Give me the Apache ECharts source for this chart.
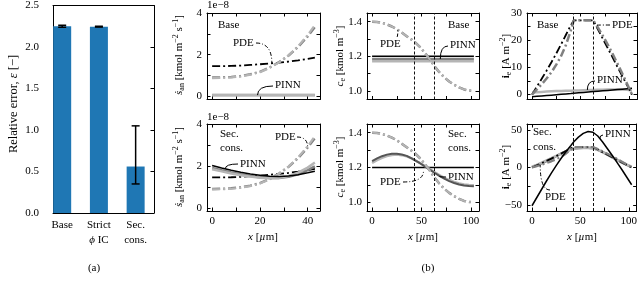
<!DOCTYPE html>
<html><head><meta charset="utf-8">
<script src="https://cdn.jsdelivr.net/npm/echarts@6/dist/echarts.min.js"></script>
<style>html,body{margin:0;padding:0;background:#fff}#c{width:640px;height:292px}</style>
</head><body><div id="c"></div>
<script>
const FONT = '"Liberation Serif","DejaVu Serif","Times New Roman",serif';

// ---------- (a) bar chart data ----------
const barCategories = ['Base', 'Strict\nϕ IC', 'Sec.\ncons.'];
const barValues = [2.25, 2.245, 0.56];
const barErrLow = [2.238, 2.240, 0.35];
const barErrHigh = [2.262, 2.250, 1.05];
const barYTicks = [0, 0.5, 1.0, 1.5, 2.0, 2.5];

// ---------- (b) data ----------
const separatorBounds = [43, 63];
const xAnode = [0, 4, 8, 12, 16, 20, 24, 28, 32, 36, 40, 43];
const sPdeBlack = [1.45, 1.45, 1.46, 1.48, 1.51, 1.54, 1.58, 1.62, 1.67, 1.73, 1.80, 1.86];
const sPdeGray  = [0.90, 0.91, 0.93, 0.98, 1.06, 1.18, 1.38, 1.64, 1.96, 2.38, 2.88, 3.33];
const sPdeLight = [0.88, 0.89, 0.91, 0.96, 1.04, 1.16, 1.36, 1.63, 1.97, 2.41, 2.94, 3.42];
const sPinnBaseGray  = [0.06, 0.06, 0.06, 0.06, 0.06, 0.06, 0.06, 0.06, 0.06, 0.06, 0.06, 0.06];
const sPinnBaseLight = [0.05, 0.05, 0.05, 0.05, 0.05, 0.05, 0.05, 0.05, 0.05, 0.05, 0.05, 0.05];
const sPinnSecBlack = [2.02, 1.90, 1.79, 1.70, 1.62, 1.56, 1.51, 1.49, 1.52, 1.58, 1.67, 1.75];
const sPinnSecGray  = [1.90, 1.79, 1.69, 1.60, 1.52, 1.46, 1.42, 1.42, 1.48, 1.60, 1.80, 1.98];
const sPinnSecLight = [1.84, 1.74, 1.64, 1.56, 1.49, 1.44, 1.41, 1.43, 1.52, 1.68, 1.92, 2.16];

const xCell = [0, 5, 10, 15, 20, 25, 30, 35, 40, 43, 48, 53, 58, 63, 68, 73, 78, 83, 88, 93, 98, 103];
const cePde = [1.400, 1.398, 1.393, 1.384, 1.372, 1.356, 1.337, 1.316, 1.296, 1.284, 1.256, 1.222, 1.185, 1.143, 1.108, 1.078, 1.054, 1.035, 1.020, 1.008, 1.002, 1.000];
const cePinnBaseBlack = [1.2, 1.2, 1.2, 1.2, 1.2, 1.2, 1.2, 1.2, 1.2, 1.2, 1.2, 1.2, 1.2, 1.2, 1.2, 1.2, 1.2, 1.2, 1.2, 1.2, 1.2, 1.2];
const cePinnBaseGray = [1.184, 1.184, 1.184, 1.184, 1.184, 1.184, 1.184, 1.184, 1.184, 1.184, 1.184, 1.184, 1.184, 1.184, 1.184, 1.184, 1.184, 1.184, 1.184, 1.184, 1.184, 1.184];
const cePinnBaseLight = [1.171, 1.171, 1.171, 1.171, 1.171, 1.171, 1.171, 1.171, 1.171, 1.171, 1.171, 1.171, 1.171, 1.171, 1.171, 1.171, 1.171, 1.171, 1.171, 1.171, 1.171, 1.171];
const cePinnSecBlack = [1.2, 1.2, 1.2, 1.2, 1.2, 1.2, 1.2, 1.2, 1.2, 1.2, 1.2, 1.2, 1.2, 1.2, 1.2, 1.2, 1.2, 1.2, 1.2, 1.2, 1.2, 1.2];
const cePinnSecGray = [1.237, 1.252, 1.265, 1.274, 1.279, 1.279, 1.275, 1.267, 1.253, 1.243, 1.226, 1.208, 1.189, 1.170, 1.152, 1.136, 1.122, 1.111, 1.102, 1.096, 1.093, 1.092];
const cePinnSecLight = [1.226, 1.242, 1.256, 1.266, 1.272, 1.274, 1.271, 1.264, 1.252, 1.243, 1.227, 1.210, 1.192, 1.174, 1.157, 1.141, 1.128, 1.117, 1.108, 1.102, 1.099, 1.098];

const iePdeBlack = [0, 2.9, 5.8, 8.8, 11.9, 15.1, 18.5, 22.0, 25.5, 27.3, 27.3, 27.3, 27.3, 27.3, 23.9, 20.5, 17.1, 13.7, 10.2, 6.8, 3.4, 0];
const iePdeGray  = [0, 1.9, 3.8, 5.9, 8.2, 11.0, 14.2, 18.3, 23.6, 27.3, 27.3, 27.3, 27.3, 27.3, 24.6, 21.6, 18.4, 15.0, 11.4, 7.7, 3.9, 0];
const iePinnBaseBlack = [-0.8, -0.65, -0.5, -0.35, -0.2, -0.05, 0.1, 0.25, 0.4, 0.5, 0.65, 0.8, 0.95, 1.1, 1.25, 1.4, 1.55, 1.7, 1.85, 2.0, 2.15, 2.3];
const iePinnBaseGray  = [0.8, 0.9, 1.0, 1.1, 1.2, 1.3, 1.35, 1.4, 1.45, 1.5, 1.55, 1.6, 1.65, 1.7, 1.75, 1.8, 1.85, 1.9, 1.9, 1.9, 1.8, 1.5];
const iePinnSecBlack = [-51, -40, -29, -18, -7.5, 2.5, 12, 21, 29, 34, 40.5, 45.5, 48, 47, 42, 34, 25, 16, 6.5, -3, -13, -23];
const iePinnSecGray  = [0.5, 3, 5.5, 8.5, 11.5, 15, 18.5, 21.5, 24, 25, 26, 26.3, 26.3, 25.8, 23.5, 20.5, 17, 13.5, 10, 6.5, 3.5, 0.5];
const iePinnSecLight = [1, 3.5, 6.5, 9.5, 12.5, 15.5, 18.5, 21.5, 23.8, 25, 25.8, 26, 26, 25.5, 23.5, 20.8, 17.5, 14, 10.5, 7, 3.8, 1];

// tick definitions
const xAnodeTicks = [0, 10, 20, 30, 40], xAnodeLabels = [0, 20, 40];
const xCellTicks = [0, 25, 50, 75, 100], xCellLabels = [0, 50, 100];
const sTicks = [0, 1, 2, 3, 4], sLabels = [0, 2, 4];
const ceTicks = [1.0, 1.1, 1.2, 1.3, 1.4], ceLabels = [1.0, 1.2, 1.4];
const ieBaseTicks = [0, 5, 10, 15, 20, 25, 30], ieBaseLabels = [0, 10, 20, 30];
const ieSecTicks = [-50, -25, 0, 25, 50], ieSecLabels = [-50, 0, 50];

// ---------- layout ----------
const grids = [
  {left: 53, top: 4, width: 101, height: 209},
  {left: 207, top: 13, width: 113, height: 86.5},
  {left: 367, top: 13, width: 112, height: 86.5},
  {left: 527, top: 13, width: 110, height: 86.5},
  {left: 207, top: 124, width: 113, height: 87},
  {left: 367, top: 124, width: 112, height: 87},
  {left: 527, top: 124, width: 110, height: 87}
];
const minus = v => String(v).replace('-', '−');
const lblStyle = {color: '#000', fontFamily: FONT, fontSize: 11};

const xAxes = [], yAxes = [];
function addAxes(gi, xr, yr, xt, xl, yt, yl, showX, fmtX, fmtY) {
  const base = {type: 'value', gridIndex: gi, splitLine: {show: false},
    axisLine: {show: true, onZero: false, lineStyle: {color: '#000', width: 1}}};
  const tick = vals => ({show: true, inside: true, length: 3.5, customValues: vals, lineStyle: {color: '#000', width: 1}});
  xAxes.push(Object.assign({}, base, {position: 'bottom', min: xr[0], max: xr[1], axisTick: tick(xt),
    axisLabel: Object.assign({show: showX, customValues: xl, formatter: fmtX || minus, margin: 5}, lblStyle)}));
  xAxes.push(Object.assign({}, base, {position: 'top', min: xr[0], max: xr[1],
    axisTick: gi === 0 ? {show: false} : tick(xt), axisLabel: {show: false}}));
  yAxes.push(Object.assign({}, base, {position: 'left', min: yr[0], max: yr[1], axisTick: tick(yt),
    axisLabel: Object.assign({show: true, customValues: yl, formatter: fmtY || minus, margin: gi === 0 ? 14 : 5}, lblStyle)}));
  yAxes.push(Object.assign({}, base, {position: 'right', min: yr[0], max: yr[1], axisTick: tick(yt), axisLabel: {show: false}}));
}
addAxes(0, [-0.25, 2.5], [0, 2.5], [0, 1, 2], [0, 1, 2], barYTicks, barYTicks, true,
  v => barCategories[Math.round(v)].replace('ϕ', '{i|ϕ}'), v => v.toFixed(1));
xAxes[0].axisLabel.lineHeight = 15;
xAxes[0].axisLabel.rich = {i: {fontStyle: 'italic', fontFamily: FONT, fontSize: 11, color: '#000', lineHeight: 15}};
const xrA = [-2.15, 45.15], xrC = [-5.15, 108.15];
addAxes(1, xrA, [-0.15, 4], xAnodeTicks, xAnodeLabels, sTicks, sLabels, false);
addAxes(2, xrC, [0.95, 1.45], xCellTicks, xCellLabels, ceTicks, ceLabels, false, null, v => v.toFixed(1));
addAxes(3, xrC, [-1.8, 30], xCellTicks, xCellLabels, ieBaseTicks, ieBaseLabels, false);
addAxes(4, xrA, [-0.15, 4], xAnodeTicks, xAnodeLabels, sTicks, sLabels, true);
addAxes(5, xrC, [0.95, 1.45], xCellTicks, xCellLabels, ceTicks, ceLabels, true, null, v => v.toFixed(1));
addAxes(6, xrC, [-58, 58], xCellTicks, xCellLabels, ieSecTicks, ieSecLabels, true);

// ---------- series ----------
const DASHDOT = [8, 3, 2, 3];
const series = [];
function line(gi, xs, ys, color, width, dashed, z) {
  series.push({type: 'line', xAxisIndex: 2 * gi, yAxisIndex: 2 * gi, data: xs.map((x, i) => [x, ys[i]]),
    symbol: 'none', showSymbol: false, silent: true, z: z || 2,
    lineStyle: {color: color, width: width, type: dashed ? DASHDOT : 'solid', cap: 'butt'}});
}
const BLK = '#000', GRY = '#808080', LGT = '#b5b5b5';

series.push({type: 'bar', xAxisIndex: 0, yAxisIndex: 0, data: barValues.map((v, i) => [i, v]),
  barWidth: 18, itemStyle: {color: '#1f77b4'}, silent: true});
series.push({type: 'custom', xAxisIndex: 0, yAxisIndex: 0, silent: true, z: 5,
  data: barValues.map((v, i) => [i, barErrLow[i], barErrHigh[i]]),
  renderItem: (params, api) => {
    const lo = api.coord([api.value(0), api.value(1)]), hi = api.coord([api.value(0), api.value(2)]);
    const st = {stroke: '#000', lineWidth: 1.5};
    return {type: 'group', children: [
      {type: 'line', shape: {x1: lo[0], y1: lo[1], x2: hi[0], y2: hi[1]}, style: st},
      {type: 'line', shape: {x1: lo[0] - 4, y1: lo[1], x2: lo[0] + 4, y2: lo[1]}, style: st},
      {type: 'line', shape: {x1: hi[0] - 4, y1: hi[1], x2: hi[0] + 4, y2: hi[1]}, style: st}
    ]};
  }});

// s_an base
line(1, xAnode, sPinnBaseGray, GRY, 2.5, false);
line(1, xAnode, sPinnBaseLight, LGT, 2.5, false);
line(1, xAnode, sPdeBlack, BLK, 1.8, true);
line(1, xAnode, sPdeGray, GRY, 2.5, true);
line(1, xAnode, sPdeLight, LGT, 2.2, true);
// s_an sec
line(4, xAnode, sPdeBlack, BLK, 1.8, true);
line(4, xAnode, sPdeGray, GRY, 2.5, true);
line(4, xAnode, sPdeLight, LGT, 2.2, true);
line(4, xAnode, sPinnSecGray, GRY, 2.5, false);
line(4, xAnode, sPinnSecLight, LGT, 2.5, false);
line(4, xAnode, sPinnSecBlack, BLK, 1.5, false);
// c_e base
line(2, xCell, cePinnBaseGray, GRY, 2.5, false);
line(2, xCell, cePinnBaseLight, LGT, 2.5, false);
line(2, xCell, cePinnBaseBlack, BLK, 1.5, false);
line(2, xCell, cePde, GRY, 2.5, true);
line(2, xCell, cePde, LGT, 1.8, true);
// c_e sec
line(5, xCell, cePinnSecBlack, BLK, 1.5, false);
line(5, xCell, cePinnSecLight, LGT, 2.5, false);
line(5, xCell, cePinnSecGray, '#555', 2, false);
line(5, xCell, cePde, GRY, 2.5, true);
line(5, xCell, cePde, LGT, 1.8, true);
// i_e base
line(3, xCell, iePinnBaseGray, LGT, 2.5, false);
line(3, xCell, iePinnBaseBlack, BLK, 1.5, false);
line(3, xCell, iePdeBlack, BLK, 1.8, true);
line(3, xCell, iePdeGray, GRY, 2.5, true);
// i_e sec
line(6, xCell, iePinnSecGray, GRY, 2.5, false);
line(6, xCell, iePinnSecLight, LGT, 2.5, false);
line(6, xCell, iePdeBlack, BLK, 1.8, true);
line(6, xCell, iePdeGray, GRY, 2.2, true);
line(6, xCell, iePinnSecBlack, BLK, 1.5, false);

// separator dashed lines
[2, 3, 5, 6].forEach(gi => series.push({type: 'line', xAxisIndex: 2 * gi, yAxisIndex: 2 * gi, data: [], silent: true,
  markLine: {silent: true, symbol: 'none', animation: false, label: {show: false},
    lineStyle: {color: '#111', width: 1, type: [3, 2]},
    data: separatorBounds.map(b => ({xAxis: b}))}}));

const chart = echarts.init(document.getElementById('c'), null, {renderer: 'canvas'});
chart.setOption({animation: false, backgroundColor: '#fff', grid: grids.map(g => Object.assign({containLabel: false}, g)),
  xAxis: xAxes, yAxis: yAxes, series: series});

// ---------- text & annotations ----------
function mkRich(fs) {
  const sfs = Math.round(fs * 0.72);
  return {
    n: {fontFamily: FONT, fontSize: fs, fill: '#000', lineHeight: fs + 3},
    i: {fontFamily: FONT, fontSize: fs, fontStyle: 'italic', fill: '#000', lineHeight: fs + 3},
    b: {fontFamily: FONT, fontSize: fs, fontWeight: 'bold', fill: '#000', lineHeight: fs + 3},
    sub: {fontFamily: FONT, fontSize: sfs, fill: '#000', verticalAlign: 'bottom', lineHeight: sfs},
    sup: {fontFamily: FONT, fontSize: sfs, fill: '#000', verticalAlign: 'top', lineHeight: sfs}
  };
}
const g = [];
function txt(s, x, y, opt, fs) {
  fs = fs || 11;
  g.push(Object.assign({type: 'text', silent: true, x: x, y: y, style: {text: s, fill: '#000',
    font: fs + 'px ' + FONT, align: 'left', verticalAlign: 'middle', textAlign: 'left', textVerticalAlign: 'middle', rich: mkRich(fs)}}, opt || {}));
  return g[g.length - 1];
}
function ctxt(s, x, y, opt, fs) {
  const e = txt(s, x, y, opt, fs);
  e.style.align = 'center'; e.style.textAlign = 'center';
  return e;
}
function vtxt(s, x, y, fs) { return ctxt(s, x, y, {rotation: Math.PI / 2}, fs); }

vtxt('{n|Relative error, }{i|ε}{n| [−]}', 14, 104, 12.5);
const sLab = '{i|ṡ}{sub|an}{n| [kmol m}{sup|−2}{n| s}{sup|−1}{n|]}';
const cLab = '{i|c}{sub|e}{n| [kmol m}{sup|−3}{n|]}';
const iLab = '{b|i}{sub|e}{n| [A m}{sup|−2}{n|]}';
vtxt(sLab, 179, 55); vtxt(sLab, 179, 167);
vtxt(cLab, 340, 56); vtxt(cLab, 340, 167);
vtxt(iLab, 506, 56); vtxt(iLab, 506, 167);
txt('1e−8', 207, 5); txt('1e−8', 207, 117);
const xLab = '{i|x}{n| [}{i|µ}{n|m]}';
ctxt(xLab, 263, 237); ctxt(xLab, 423, 237); ctxt(xLab, 582, 237);
ctxt('(a)', 94, 268); ctxt('(b)', 428, 268);

txt('Base', 218, 25); txt('Base', 448, 25); txt('Base', 537, 25);
txt('Sec.', 220, 134); txt('cons.', 220, 148);
txt('Sec.', 448, 134); txt('cons.', 448, 148);
txt('Sec.', 533, 132); txt('cons.', 533, 147);

function lead(label, tx, ty, sx, sy, gi, anchor, dashed) {
  txt(label, tx, ty);
  const p = chart.convertToPixel({gridIndex: gi}, anchor);
  g.push({type: 'bezierCurve', silent: true, z: 10,
    shape: {x1: sx, y1: sy, x2: p[0], y2: p[1], cpx1: p[0], cpy1: sy},
    style: {stroke: '#000', lineWidth: 1, fill: null, lineDash: dashed ? [4, 2, 1, 2] : null}});
}
lead('PDE', 233, 43, 256, 43, 1, [25, 1.6], true);
lead('PINN', 275, 85, 273, 86, 1, [19, 0.06], false);
lead('PDE', 380, 44, 397, 37, 2, [26, 1.352], true);
lead('PINN', 450, 45, 448, 46, 2, [69, 1.184], false);
lead('PDE', 612, 25, 610, 25, 3, [66, 25.5], true);
lead('PINN', 597, 80, 595, 81, 3, [57, 1.7], false);
lead('PDE', 275, 137, 297, 137, 4, [40, 2.88], true);
lead('PINN', 240, 164, 238, 164, 4, [5.5, 1.86], false);
lead('PDE', 380, 182, 403, 182, 5, [52, 1.18], true);
lead('PINN', 448, 177, 446, 177, 5, [68, 1.15], false);
lead('PINN', 605, 134, 603, 135, 6, [70, 38], false);
lead('PDE', 545, 197, 550, 190, 6, [8.5, 3.4], true);

chart.setOption({graphic: {elements: g}});
</script></body></html>
